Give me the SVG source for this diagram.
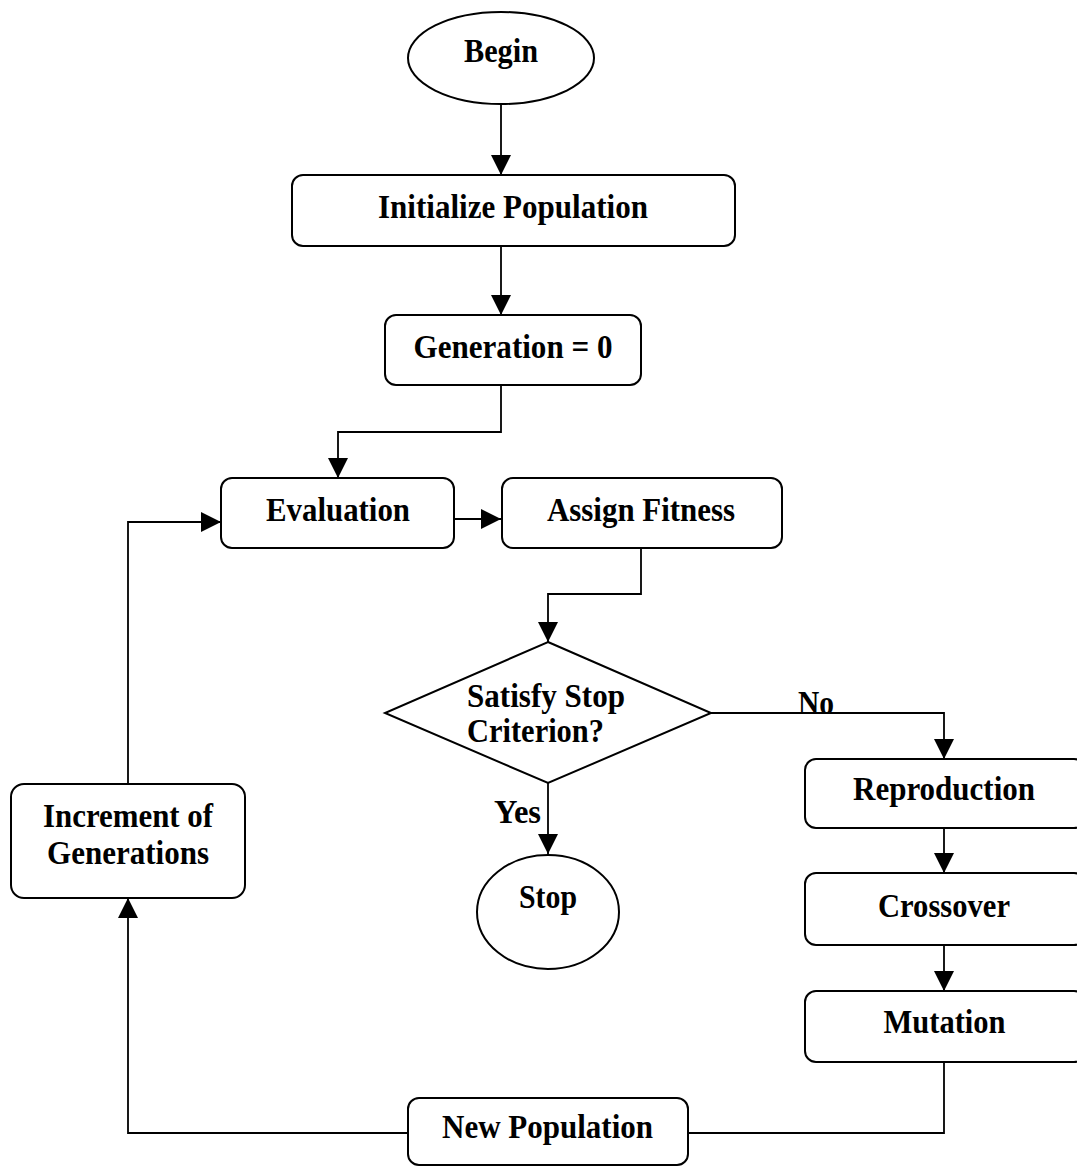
<svg xmlns="http://www.w3.org/2000/svg" width="1077" height="1167" viewBox="0 0 1077 1167">
<defs>
<marker id="ah" viewBox="0 0 20 20" markerWidth="20" markerHeight="20" refX="20" refY="10" orient="auto" markerUnits="userSpaceOnUse">
<path d="M0,0 L20,10 L0,20 z" fill="#000"/>
</marker>
<style>
.n{fill:#fff;stroke:#000;stroke-width:2}
.t{font-family:"Liberation Serif","Times New Roman",serif;font-weight:bold;font-size:34px;fill:#000;text-anchor:middle}
.c{fill:none;stroke:#000;stroke-width:1.8}
.a{marker-end:url(#ah)}
</style>
</defs>
<rect width="1077" height="1167" fill="#fff"/>
<g id="connectors">
<path class="c a" d="M501,104 V175"/>
<path class="c a" d="M501,246 V315"/>
<path class="c a" d="M501,385 V432 H338 V478"/>
<path class="c a" d="M454,519 H501"/>
<path class="c a" d="M641,548 V594 H548 V642"/>
<path class="c a" d="M711,713 H944 V759"/>
<path class="c a" d="M548,783 V854"/>
<path class="c a" d="M944,828 V873"/>
<path class="c a" d="M944,945 V991"/>
<path class="c" d="M944,1062 V1133 H688"/>
<path class="c a" d="M408,1133 H128 V898"/>
<path class="c a" d="M128,784 V522 H221"/>
<text class="t" x="816" y="714" textLength="36" lengthAdjust="spacingAndGlyphs">No</text>
<text class="t" x="517.5" y="823" textLength="47" lengthAdjust="spacingAndGlyphs">Yes</text>
</g>
<g id="begin">
<ellipse class="n" cx="501" cy="58" rx="93" ry="46"/>
<text class="t" x="501" y="62" textLength="74" lengthAdjust="spacingAndGlyphs">Begin</text>
</g>
<g id="init">
<rect class="n" x="292" y="175" width="443" height="71" rx="11"/>
<text class="t" x="513" y="218" textLength="270" lengthAdjust="spacingAndGlyphs">Initialize Population</text>
</g>
<g id="gen0">
<rect class="n" x="385" y="315" width="256" height="70" rx="11"/>
<text class="t" x="513" y="358" textLength="199" lengthAdjust="spacingAndGlyphs">Generation = 0</text>
</g>
<g id="evaluation">
<rect class="n" x="221" y="478" width="233" height="70" rx="11"/>
<text class="t" x="338" y="521" textLength="144" lengthAdjust="spacingAndGlyphs">Evaluation</text>
</g>
<g id="fitness">
<rect class="n" x="502" y="478" width="280" height="70" rx="11"/>
<text class="t" x="641" y="521" textLength="188" lengthAdjust="spacingAndGlyphs">Assign Fitness</text>
</g>
<g id="decision">
<polygon class="n" points="548,642 711,713 548,783 385,713"/>
<text class="t" x="546" y="707" textLength="158" lengthAdjust="spacingAndGlyphs">Satisfy Stop</text>
<text class="t" x="535.5" y="742" textLength="137" lengthAdjust="spacingAndGlyphs">Criterion?</text>
</g>
<g id="stop">
<ellipse class="n" cx="548" cy="912" rx="71" ry="57"/>
<text class="t" x="548" y="908" textLength="58" lengthAdjust="spacingAndGlyphs">Stop</text>
</g>
<g id="reproduction">
<rect class="n" x="805" y="759" width="280" height="69" rx="11"/>
<text class="t" x="944" y="800" textLength="182" lengthAdjust="spacingAndGlyphs">Reproduction</text>
</g>
<g id="crossover">
<rect class="n" x="805" y="873" width="280" height="72" rx="11"/>
<text class="t" x="944" y="917" textLength="132" lengthAdjust="spacingAndGlyphs">Crossover</text>
</g>
<g id="mutation">
<rect class="n" x="805" y="991" width="280" height="71" rx="11"/>
<text class="t" x="944.5" y="1033" textLength="122" lengthAdjust="spacingAndGlyphs">Mutation</text>
</g>
<g id="newpop">
<rect class="n" x="408" y="1098" width="280" height="67" rx="11"/>
<text class="t" x="547.5" y="1138" textLength="211" lengthAdjust="spacingAndGlyphs">New Population</text>
</g>
<g id="increment">
<rect class="n" x="11" y="784" width="234" height="114" rx="13"/>
<text class="t" x="128" y="827" textLength="170" lengthAdjust="spacingAndGlyphs">Increment of</text>
<text class="t" x="128" y="864" textLength="162" lengthAdjust="spacingAndGlyphs">Generations</text>
</g>
</svg>
